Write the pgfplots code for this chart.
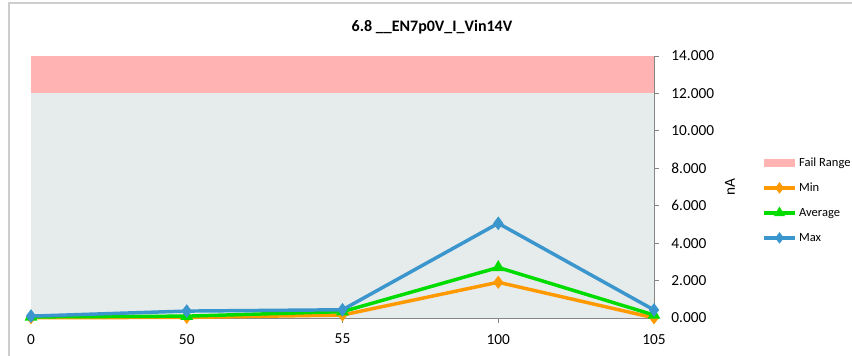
\documentclass[border=0pt]{standalone}
\usepackage{fontspec}
\setmainfont{Carlito}
\usepackage{pgfplots}
\pgfplotsset{compat=1.18}

\definecolor{failpink}{RGB}{255,179,179}
\definecolor{passbg}{RGB}{230,235,235}
\definecolor{minorange}{RGB}{255,153,0}
\definecolor{avggreen}{RGB}{0,220,0}
\definecolor{maxblue}{RGB}{58,150,205}
\definecolor{axisgray}{RGB}{134,134,134}
\definecolor{framegray}{RGB}{205,205,205}

\pgfplotsset{
  linelegend/.style={legend image code/.code={
    \draw[mark repeat=2,mark phase=2,##1,mark size=2.2pt] plot coordinates {(0pt,0pt)(11.6pt,0pt)(23.2pt,0pt)};}},
}

\begin{document}
\begin{tikzpicture}
% chart frame
\draw[framegray, line width=1.1pt] (6.75pt,-10pt) -- (6.75pt,264pt) -- (660pt,264pt);
% chart title
\node[font=\bfseries\fontsize{12}{14}\selectfont] at (324pt,246pt) {6.8 \_\_EN7p0V\_I\_Vin14V};
\begin{axis}[
  at={(23.25pt,27.75pt)}, anchor=south west,
  scale only axis, width=467.25pt, height=196.5pt,
  xmin=0, xmax=4, ymin=0, ymax=14,
  clip=false,
  axis x line*=bottom, axis y line*=right,
  axis line style={-},
  x axis line style={draw=axisgray, line width=0.6pt},
  y axis line style={draw=axisgray, line width=1pt},
  xtick={0,1,2,3,4}, xticklabels={0,50,55,100,105},
  ytick={0,2,...,14},
  tick align=outside, major tick length=3.5pt,
  tick style={draw=axisgray, line width=0.6pt},
  /pgf/number format/assume math mode=true,
  yticklabel style={/pgf/number format/.cd, fixed, fixed zerofill, precision=3, /tikz/.cd, xshift=6pt},
  xticklabel style={yshift=-5pt},
  tick label style={font=\fontsize{11.5}{13}\selectfont, text=black},
  ylabel={nA},
  every axis y label/.style={at={(axis description cs:1.122,0.5)}, anchor=center, rotate=90,
     font=\fontsize{11.5}{13}\selectfont},
  legend style={at={(axis description cs:1.167,0.626)}, anchor=north west,
    draw=none, fill=none, font=\fontsize{9.4}{11}\selectfont,
    nodes={inner sep=0pt, text height=7pt, text depth=2pt},
    row sep=9.75pt,
    /tikz/every odd column/.append style={column sep=1.8pt}},
  legend cell align=left,
]
% pass region (not in legend)
\addplot[forget plot, fill=passbg, draw=none] coordinates {(0,0) (4,0) (4,12) (0,12)} -- cycle;
% fail region
\addplot[fill=failpink, draw=none,
  legend image code/.code={\fill[failpink] (0pt,-3pt) rectangle (23.2pt,3pt);}]
  coordinates {(0,12) (4,12) (4,14) (0,14)} -- cycle;
\addlegendentry{Fail Range}

\addplot[minorange, line width=2.6pt, mark=diamond*, mark size=2.8pt, linelegend]
  coordinates {(0,0.02) (1,0.03) (2,0.16) (3,1.91) (4,0.01)};
\addlegendentry{Min}

\addplot[avggreen, line width=2.6pt, mark=triangle*, mark size=3pt, linelegend]
  coordinates {(0,0.06) (1,0.10) (2,0.34) (3,2.70) (4,0.16)};
\addlegendentry{Average}

\addplot[maxblue, line width=2.6pt, mark=diamond*, mark size=3pt, linelegend]
  coordinates {(0,0.10) (1,0.37) (2,0.44) (3,5.06) (4,0.43)};
\addlegendentry{Max}
\end{axis}
\pgfresetboundingbox
\useasboundingbox (0pt,0pt) rectangle (639pt,266.25pt);
\end{tikzpicture}
\end{document}
